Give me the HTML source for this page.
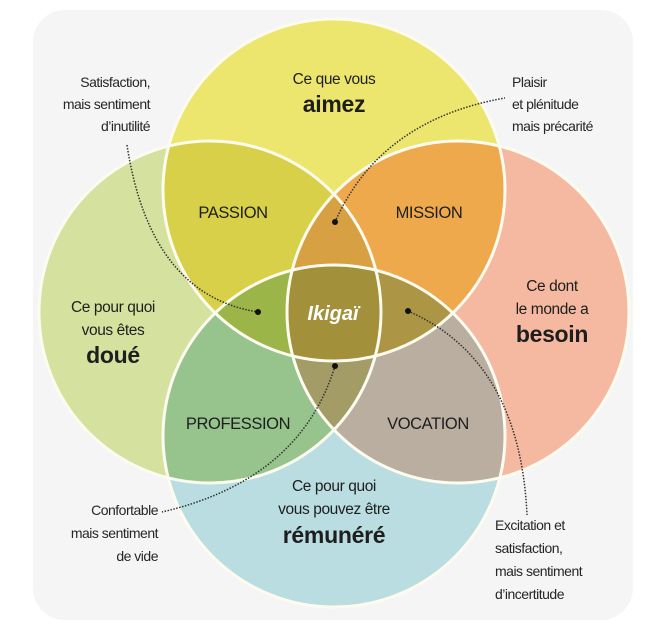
<!DOCTYPE html>
<html><head><meta charset="utf-8"><style>
html,body{margin:0;padding:0;background:#fff;}
svg{display:block;}
text{font-family:"Liberation Sans",sans-serif;fill:#1e1e1e;}
.a{font-size:14px;letter-spacing:-0.5px;fill:#262626;}
.n{font-size:15.5px;letter-spacing:-0.4px;}
.b{font-size:23px;font-weight:bold;letter-spacing:-0.3px;}
.l{font-size:16.5px;letter-spacing:-0.4px;}
</style></head><body>
<svg width="650" height="626" viewBox="0 0 650 626">
<defs>
<clipPath id="cT"><circle cx="334" cy="190" r="171"/></clipPath>
<clipPath id="cL"><circle cx="210" cy="312" r="171"/></clipPath>
<clipPath id="cR"><circle cx="458" cy="312" r="171"/></clipPath>
<clipPath id="cB"><circle cx="334" cy="436" r="171"/></clipPath>
</defs>
<rect x="33" y="10" width="600" height="610" rx="32" fill="#f5f5f5"/>
<circle cx="334" cy="190" r="171" fill="#ece66e"/>
<circle cx="210" cy="312" r="171" fill="#d5e29f"/>
<circle cx="458" cy="312" r="171" fill="#f4b9a0"/>
<circle cx="334" cy="436" r="171" fill="#b9dde0"/>
<g clip-path="url(#cT)"><circle cx="210" cy="312" r="171" fill="#d8d048"/><circle cx="458" cy="312" r="171" fill="#eea94c"/></g>
<g clip-path="url(#cB)"><circle cx="210" cy="312" r="171" fill="#96c48c"/><circle cx="458" cy="312" r="171" fill="#b9aea0"/></g>
<g clip-path="url(#cT)"><g clip-path="url(#cL)"><circle cx="458" cy="312" r="171" fill="#d7a042"/></g></g>
<g clip-path="url(#cT)"><g clip-path="url(#cL)"><circle cx="334" cy="436" r="171" fill="#9cb548"/></g></g>
<g clip-path="url(#cT)"><g clip-path="url(#cR)"><circle cx="334" cy="436" r="171" fill="#ac9645"/></g></g>
<g clip-path="url(#cB)"><g clip-path="url(#cL)"><circle cx="458" cy="312" r="171" fill="#a39c66"/></g></g>
<g clip-path="url(#cT)"><g clip-path="url(#cL)"><g clip-path="url(#cR)"><circle cx="334" cy="436" r="171" fill="#a2903a"/></g></g></g>
<g fill="none" stroke="#fdfbf0" stroke-width="3">
<circle cx="334" cy="190" r="171"/><circle cx="210" cy="312" r="171"/>
<circle cx="458" cy="312" r="171"/><circle cx="334" cy="436" r="171"/>
</g>
<g fill="none" stroke="#333" stroke-width="1.5" stroke-dasharray="1.5 1.5">
<path d="M127,145 Q150,295 258,312"/>
<path d="M335,222 Q380,120 505,98"/>
<path d="M335,366 Q300,480 162,512"/>
<path d="M408,311 Q520,360 527,515"/>
</g>
<g fill="#111"><circle cx="258" cy="312" r="3"/><circle cx="335" cy="222" r="3"/><circle cx="335" cy="366" r="3"/><circle cx="408" cy="311" r="3"/></g>
<g text-anchor="middle">
<text class="n" x="334" y="84">Ce que vous</text>
<text class="b" x="334" y="112">aimez</text>
<text class="l" x="233" y="218">PASSION</text>
<text class="l" x="429" y="218">MISSION</text>
<text class="l" x="238" y="429">PROFESSION</text>
<text class="l" x="428" y="429">VOCATION</text>
<text class="n" x="113" y="312">Ce pour quoi</text>
<text class="n" x="113" y="335">vous êtes</text>
<text class="b" x="113" y="363">doué</text>
<text class="n" x="552" y="291">Ce dont</text>
<text class="n" x="552" y="314">le monde a</text>
<text class="b" x="552" y="342">besoin</text>
<text class="n" x="334" y="491">Ce pour quoi</text>
<text class="n" x="334" y="514">vous pouvez être</text>
<text class="b" x="334" y="543">rémunéré</text>
<text x="333" y="320" style="font-size:20px;font-style:italic;font-weight:bold;fill:#fff;">Ikigaï</text>
</g>
<g text-anchor="end">
<text class="a" x="150" y="87">Satisfaction,</text>
<text class="a" x="150" y="109">mais sentiment</text>
<text class="a" x="150" y="131">d’inutilité</text>
<text class="a" x="158" y="515">Confortable</text>
<text class="a" x="158" y="538">mais sentiment</text>
<text class="a" x="158" y="561">de vide</text>
</g>
<g>
<text class="a" x="512" y="87">Plaisir</text>
<text class="a" x="512" y="109">et plénitude</text>
<text class="a" x="512" y="131">mais précarité</text>
<text class="a" x="495" y="530">Excitation et</text>
<text class="a" x="495" y="553">satisfaction,</text>
<text class="a" x="495" y="576">mais sentiment</text>
<text class="a" x="495" y="599">d’incertitude</text>
</g>
</svg>
</body></html>
